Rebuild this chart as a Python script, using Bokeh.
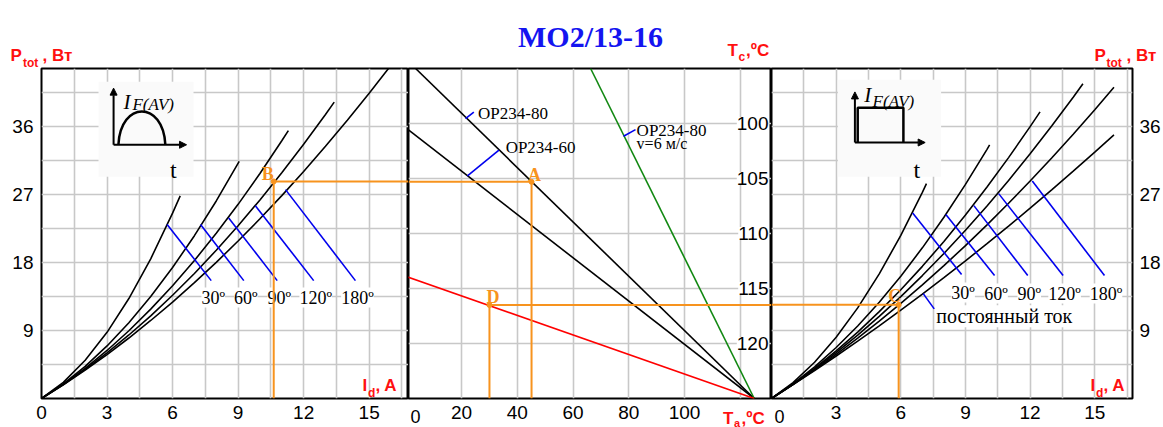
from bokeh.plotting import figure
from bokeh.layouts import row, column
from bokeh.models import Range1d, FixedTicker, Grid, Label, Arrow, NormalHead
from bokeh.core.properties import value
from bokeh.embed import file_html
from bokeh.resources import INLINE

# ---------------- data ----------------
I_TICKS = [0, 3, 6, 9, 12, 15]
I_TICKS_R = [3, 6, 9, 12, 15]
P_TICKS = [9, 18, 27, 36]
TA_TICKS = [20, 40, 60, 80, 100]
TC_TICKS = [100, 105, 110, 115, 120]
I_GRID = [1.5, 3, 4.5, 6, 7.5, 9, 10.5, 12, 13.5, 15, 16.5]
P_GRID = [4.5, 9, 13.5, 18, 22.5, 27, 31.5, 36, 40.5]
TA_GRID = [20, 40, 60, 80, 100, 120]
TC_GRID = [100, 105, 110, 115, 120]
ANGLES = ["30º", "60º", "90º", "120º", "180º"]

# half-sine current, conduction angle 30..180 deg (left panel)
sin30_I = [0, 1, 2, 3, 4, 5, 6, 6.35]
sin30_P = [0, 2.14, 5.06, 8.76, 13.24, 18.5, 24.54, 26.84]
sin60_I = [0, 1, 2, 3, 4, 5, 6, 7, 8, 9.05]
sin60_P = [0, 1.94, 4.26, 6.96, 10.04, 13.5, 17.34, 21.56, 26.16, 31.4]
sin90_I = [0, 1, 2, 3, 4, 5, 6, 7, 8, 9, 10, 11, 11.3]
sin90_P = [0, 1.87, 3.99, 6.36, 8.97, 11.83, 14.93, 18.28, 21.87, 25.71, 29.8, 34.13, 35.48]
sin120_I = [0, 1, 2, 3, 4, 5, 6, 7, 8, 9, 10, 11, 12, 13, 13.4]
sin120_P = [0, 1.84, 3.85, 6.04, 8.41, 10.95, 13.67, 16.56, 19.63, 22.88, 26.3, 29.9, 33.67, 37.62, 39.25]
sin180_I = [0, 1, 2, 3, 4, 5, 6, 7, 8, 9, 10, 11, 12, 13, 14, 15, 16]
sin180_P = [0, 1.81, 3.75, 5.82, 8.01, 10.33, 12.77, 15.34, 18.03, 20.85, 23.8, 26.87, 30.07, 33.4, 36.85, 40.43, 44.13]

# rectangular current 30..180 deg and DC (right panel)
rect30_I = [0, 1, 2, 3, 4, 5, 6, 7, 7.19]
rect30_P = [0, 2.1, 4.8, 8.1, 12.0, 16.5, 21.6, 27.3, 28.45]
rect60_I = [0, 1, 2, 3, 4, 5, 6, 7, 8, 9, 10, 10.12]
rect60_P = [0, 1.95, 4.2, 6.75, 9.6, 12.75, 16.2, 19.95, 24.0, 28.35, 33.0, 33.58]
rect90_I = [0, 1, 2, 3, 4, 5, 6, 7, 8, 9, 10, 11, 12, 12.46]
rect90_P = [0, 1.9, 4.0, 6.3, 8.8, 11.5, 14.4, 17.5, 20.8, 24.3, 28.0, 31.9, 36.0, 37.95]
rect120_I = [0, 1, 2, 3, 4, 5, 6, 7, 8, 9, 10, 11, 12, 13, 14, 14.45]
rect120_P = [0, 1.88, 3.9, 6.08, 8.4, 10.88, 13.5, 16.28, 19.2, 22.28, 25.5, 28.88, 32.4, 36.08, 39.9, 41.67]
rect180_I = [0, 1, 2, 3, 4, 5, 6, 7, 8, 9, 10, 11, 12, 13, 14, 15, 15.89]
rect180_P = [0, 1.85, 3.8, 5.85, 8.0, 10.25, 12.6, 15.05, 17.6, 20.25, 23.0, 25.85, 28.8, 31.85, 35.0, 38.25, 41.23]
dc_I = [0, 1, 2, 3, 4, 5, 6, 7, 8, 9, 10, 11, 12, 13, 14, 15, 15.89]
dc_P = [0, 1.83, 3.7, 5.63, 7.6, 9.63, 11.7, 13.83, 16.0, 18.23, 20.5, 22.83, 25.2, 27.63, 30.1, 32.63, 34.91]

# heatsink lines (middle panel): Ta -> Tc
op80_Ta = [3.5, 125]
op80_Tc = [95, 125]
op60_Ta = [0, 125]
op60_Tc = [100.4, 125]
op80v_Ta = [66.3, 125]
op80v_Tc = [95, 125]
red_Ta = [0, 125]
red_Tc = [113.9, 125]

# worked example points
B_I, B_P = 10.63, 28.75
A_Ta, A_Tc = 45.1, 105.3
D_Ta, D_Tc = 30.0, 116.5
C_I, C_P = 5.9, 12.4

# leader lines (start on curve -> end at label)
lead_L_x0 = [5.75, 7.28, 8.57, 9.79, 11.17]
lead_L_y0 = [23.03, 23.03, 23.91, 25.54, 27.66]
lead_L_x1 = [7.77, 9.26, 10.79, 12.46, 14.37]
lead_L_y1 = [15.61, 15.61, 15.61, 15.61, 15.61]
lead_R_x0 = [6.55, 8.09, 9.39, 10.54, 12.10]
lead_R_y0 = [24.57, 24.35, 25.54, 27.13, 28.81]
lead_R_x1 = [8.82, 10.35, 11.89, 13.53, 15.45]
lead_R_y1 = [16.41, 16.28, 16.28, 16.28, 16.28]
lead_DC = [7.04, 13.89, 7.55, 11.87]
lead_M_x0 = [21.4, 22.1, 78.1]
lead_M_y0 = [99.56, 104.76, 101.16]
lead_M_x1 = [24.4, 33.4, 82.4]
lead_M_y1 = [98.96, 102.43, 100.56]

# ---------------- style ----------------
SANS = "Liberation Sans"
SERIF = "Liberation Serif"
GRIDC = "#c8c8c8"
ORANGE = "#f7931e"
BLUE = "#0000ee"
RED = "#ff1010"
GREEN = "#118811"
H = 427
TOP, BOT = 68, 29
FB = H - BOT  # y of frame bottom (page px)

L_X = Range1d(0, 16.8)
M_X = Range1d(0.95, 131.2)
R_X = Range1d(0, 16.75)
P_Y = Range1d(0, 43.7)
TC_Y = Range1d(125, 95)


def make_fig(width, xr, yr, left=0, right=0, yloc=None):
    p = figure(width=width, height=H, x_range=xr, y_range=yr, output_backend="svg",
               toolbar_location=None, y_axis_location=yloc, x_axis_location="below",
               min_border=0, min_border_left=left, min_border_right=right,
               min_border_top=TOP, min_border_bottom=BOT)
    p.grid.visible = False
    p.outline_line_color = "black"
    p.outline_line_width = 2
    p.background_fill_color = "white"
    p.border_fill_color = "white"
    return p


def style_axis(ax, ticks, standoff):
    ax.ticker = FixedTicker(ticks=ticks)
    ax.major_tick_line_color = None
    ax.minor_tick_line_color = None
    ax.axis_line_color = None
    ax.major_tick_out = 0
    ax.major_tick_in = 0
    ax.major_label_text_font = SANS
    ax.major_label_text_font_size = "19px"
    ax.major_label_text_color = "black"
    ax.major_label_standoff = standoff


def add_grids(p, xg, yg):
    p.add_layout(Grid(dimension=0, ticker=FixedTicker(ticks=xg), grid_line_color=GRIDC, grid_line_width=1.6))
    p.add_layout(Grid(dimension=1, ticker=FixedTicker(ticks=yg), grid_line_color=GRIDC, grid_line_width=1.6))


def ref_label(p, fx, X, Y, text, size, color=RED, font=SANS, style="bold", align="left"):
    p.add_layout(Label(x=X - fx, y=FB - Y, x_units="screen", y_units="screen", text=text,
                       text_font=font, text_font_size=f"{size}px", text_font_style=style,
                       text_color=color, text_align=align, text_baseline="alphabetic"))


def txt(p, x, y, t, size, color="black", font=SERIF, style="normal", align="left",
        xo=0, yo=0, bg=None):
    kw = {}
    if bg:
        kw["background_fill_color"] = bg
    p.text(x=x, y=y, text=t, text_font=value(font), text_font_size=f"{size}px",
           text_font_style=style, text_color=color, text_align=align,
           text_baseline="alphabetic", x_offset=xo, y_offset=yo, **kw)


def arrow(p, x0, y0, x1, y1):
    p.add_layout(Arrow(end=NormalHead(size=7, fill_color="black", line_color="black"),
                       x_start=x0, y_start=y0, x_end=x1, y_end=y1,
                       line_color="black", line_width=2))


# ================= left panel =================
p1 = make_fig(408, L_X, P_Y, left=41, yloc="left")
style_axis(p1.xaxis[0], I_TICKS, 7)
style_axis(p1.yaxis[0], P_TICKS, 8)
add_grids(p1, I_GRID, P_GRID)

# inset (half-sine pulse)
p1.quad(left=[2.61], right=[6.96], bottom=[29.38], top=[41.95], fill_color="#fafafa", line_color=None)
arrow(p1, 3.30, 33.6, 3.30, 41.1)
arrow(p1, 3.30, 33.6, 6.64, 33.6)
p1.bezier(x0=[3.52], y0=[33.6], x1=[5.67], y1=[33.6], cx0=[3.62], cy0=[39.47], cx1=[5.57], cy1=[39.47],
          line_color="black", line_width=2.5)
txt(p1, [3.75], [39.3], ["I"], 21, style="italic")
txt(p1, [4.16], [38.9], ["F(AV)"], 17, style="italic")
txt(p1, [6.04], [30.3], ["t"], 24, align="center")

for xs, ys in [(sin30_I, sin30_P), (sin60_I, sin60_P), (sin90_I, sin90_P),
               (sin120_I, sin120_P), (sin180_I, sin180_P)]:
    p1.line(xs, ys, line_color="black", line_width=1.6)

p1.segment(x0=lead_L_x0, y0=lead_L_y0, x1=lead_L_x1, y1=lead_L_y1, line_color=BLUE, line_width=1.6)
txt(p1, lead_L_x1, lead_L_y1, ANGLES, 18, align="center", xo=2, yo=17, bg="white")

p1.line([B_I, B_I], [0, B_P], line_color=ORANGE, line_width=2)
p1.line([B_I, L_X.end], [B_P, B_P], line_color=ORANGE, line_width=2)
p1.scatter([B_I], [B_P], size=5, color=ORANGE)
txt(p1, [B_I], [B_P], ["B"], 18, color=ORANGE, style="bold", align="center", xo=-6, yo=-7)

ref_label(p1, 41, 362, 385, "I", 17)
ref_label(p1, 41, 367.5, 392, "d", 12)
ref_label(p1, 41, 375, 385, ", A", 17)

# ================= middle panel =================
p2 = make_fig(363, M_X, TC_Y)
style_axis(p2.xaxis[0], TA_TICKS, 7)
add_grids(p2, TA_GRID, TC_GRID)

p2.line(op80_Ta, op80_Tc, line_color="black", line_width=1.6)
p2.line(op60_Ta, op60_Tc, line_color="black", line_width=1.6)
p2.line(op80v_Ta, op80v_Tc, line_color=GREEN, line_width=1.6)
p2.line(red_Ta, red_Tc, line_color="red", line_width=1.6)

p2.segment(x0=lead_M_x0, y0=lead_M_y0, x1=lead_M_x1, y1=lead_M_y1, line_color=BLUE, line_width=1.6)
txt(p2, [25.9], [99.1], ["OP234-80"], 17)
txt(p2, [35.8], [102.19], ["OP234-60"], 17)
txt(p2, [82.8], [100.62], ["OP234-80"], 17)
txt(p2, [82.8], [101.83], ["v=6 м/с"], 16)

p2.text(x=[M_X.end] * len(TC_TICKS), y=TC_TICKS, text=[str(t) for t in TC_TICKS],
        text_font=value(SANS), text_font_size="19px", text_color="black",
        text_align="right", text_baseline="middle", x_offset=-3, background_fill_color="white")

p2.line([M_X.start, A_Ta], [A_Tc, A_Tc], line_color=ORANGE, line_width=2)
p2.line([A_Ta, A_Ta], [A_Tc, 125], line_color=ORANGE, line_width=2)
p2.line([D_Ta, M_X.end], [D_Tc, D_Tc], line_color=ORANGE, line_width=2)
p2.line([D_Ta, D_Ta], [D_Tc, 125], line_color=ORANGE, line_width=2)
p2.scatter([A_Ta, D_Ta], [A_Tc, D_Tc], size=5, color=ORANGE)
txt(p2, [A_Ta], [A_Tc], ["A"], 18, color=ORANGE, style="bold", align="center", xo=3, yo=-7)
txt(p2, [D_Ta], [D_Tc], ["D"], 18, color=ORANGE, style="bold", align="center", xo=3.5, yo=-8.5)

# ================= right panel =================
p3 = make_fig(392, R_X, P_Y, right=28, yloc="right")
style_axis(p3.xaxis[0], I_TICKS_R, 7)
style_axis(p3.yaxis[0], P_TICKS, 7)
add_grids(p3, I_GRID, P_GRID)

p3.quad(left=[3.08], right=[7.87], bottom=[29.38], top=[42.2], fill_color="#fafafa", line_color=None)
arrow(p3, 3.87, 33.9, 3.87, 40.6)
arrow(p3, 3.87, 33.9, 7.13, 33.9)
p3.line([4.0, 4.0, 6.12, 6.12], [33.9, 38.5, 38.5, 33.9], line_color="black", line_width=2.5)
txt(p3, [4.3], [40.2], ["I"], 21, style="italic")
txt(p3, [4.69], [39.3], ["F(AV)"], 17, style="italic")
txt(p3, [6.74], [30.3], ["t"], 24, align="center")

for xs, ys in [(rect30_I, rect30_P), (rect60_I, rect60_P), (rect90_I, rect90_P),
               (rect120_I, rect120_P), (rect180_I, rect180_P), (dc_I, dc_P)]:
    p3.line(xs, ys, line_color="black", line_width=1.6)

p3.segment(x0=lead_R_x0, y0=lead_R_y0, x1=lead_R_x1, y1=lead_R_y1, line_color=BLUE, line_width=1.6)
p3.segment(x0=[lead_DC[0]], y0=[lead_DC[1]], x1=[lead_DC[2]], y1=[lead_DC[3]], line_color=BLUE, line_width=1.6)
txt(p3, lead_R_x1, lead_R_y1, ANGLES, 18, align="center", xo=1.5, yo=18, bg="white")
txt(p3, [lead_DC[2]], [lead_DC[3]], ["постоянный ток"], 20, xo=2, yo=7.5, bg="white")

p3.line([R_X.start, C_I], [C_P, C_P], line_color=ORANGE, line_width=2)
p3.line([C_I, C_I], [0, C_P], line_color=ORANGE, line_width=2)
p3.scatter([C_I], [C_P], size=5, color=ORANGE)
txt(p3, [C_I], [C_P], ["C"], 18, color=ORANGE, style="bold", align="center", xo=-4, yo=-9)

ref_label(p3, 771, 1090, 385, "I", 17)
ref_label(p3, 771, 1095.5, 392, "d", 12)
ref_label(p3, 771, 1103, 385, ", A", 17)

# ============ transparent overlay for texts outside the panel frames ============
ov = figure(width=1163, height=H, x_range=Range1d(0, 1163), y_range=Range1d(H, 0),
            output_backend="svg", toolbar_location=None, x_axis_location=None, y_axis_location=None,
            min_border=0, margin=(-H, 0, 0, 0))
ov.grid.visible = False
ov.outline_line_color = None
ov.background_fill_color = None
ov.border_fill_color = None


def otxt(X, Y, t, size, color=RED, font=SANS, style="bold", align="left"):
    ov.text(x=[X], y=[Y], text=[t], text_font=value(font), text_font_size=f"{size}px",
            text_font_style=style, text_color=color, text_align=align, text_baseline="alphabetic")


otxt(590, 36, "MO2/13-16", 30, color="#1414f0", font=SERIF, align="center")
otxt(10, 55, "P", 17)
otxt(22.5, 62, "tot", 12)
otxt(42, 55, ", Вт", 17)
otxt(1094, 55, "P", 17)
otxt(1106, 62, "tot", 12)
otxt(1126, 55, ", Вт", 17)
otxt(727, 50, "T", 17)
otxt(738, 56, "c", 12)
otxt(745.5, 50, ",ºC", 17)
otxt(722.5, 418, "T", 17)
otxt(733.5, 422, "a", 11)
otxt(741, 418, ",ºC", 17)
otxt(415, 416, "0", 18, color="black", style="normal", align="center")
otxt(779, 416, "0", 18, color="black", style="normal", align="center")

layout = column(row(p1, p2, p3, spacing=0), ov, spacing=0)
open("out.html", "w").write(file_html(layout, INLINE))
